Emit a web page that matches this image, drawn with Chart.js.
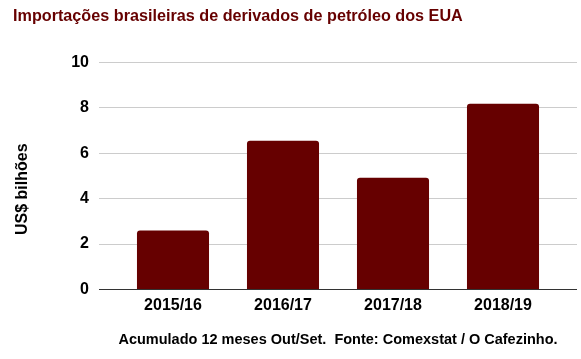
<!DOCTYPE html>
<html>
<head>
<meta charset="utf-8">
<script src="https://cdn.jsdelivr.net/npm/chart.js@4"></script>
<style>
  body { margin: 0; background: #fff; }
  #wrap { width: 581px; height: 359px; }
</style>
</head>
<body>
<div id="wrap"><canvas id="barChart"></canvas></div>
<script>
var periodos = ['2015/16', '2016/17', '2017/18', '2018/19'];
var importacoes = [2.59, 6.55, 4.92, 8.18];
var yTicks = [0, 2, 4, 6, 8, 10];

var fonte = 'Liberation Sans, Arial, sans-serif';
var marrom = '#660000';

function gridColor(c) {
    return c.tick && c.tick.value === 0 ? '#333333' : '#cccccc';
}

document.addEventListener('DOMContentLoaded', function () {
    var ctx = document.getElementById('barChart').getContext('2d');
    new Chart(ctx, {
        type: 'bar',
        data: {
            labels: periodos,
            datasets: [{
                label: 'US$ bilhões',
                data: importacoes,
                backgroundColor: marrom,
                borderRadius: 3,
                borderSkipped: 'start',
                barPercentage: 0.655,
                categoryPercentage: 1
            }]
        },
        options: {
            responsive: true,
            maintainAspectRatio: false,
            animation: false,
            layout: { padding: { left: 13, right: 4, top: 0, bottom: 10 } },
            plugins: {
                legend: { display: false },
                tooltip: { enabled: false },
                title: {
                    display: true,
                    text: 'Importações brasileiras de derivados de petróleo dos EUA',
                    align: 'start',
                    color: marrom,
                    font: { family: fonte, size: 16.2, weight: 'bold' },
                    padding: { top: 7, bottom: 36 }
                }
            },
            scales: {
                x: {
                    grid: { display: false, drawTicks: false },
                    border: { display: false },
                    ticks: {
                        color: '#000',
                        padding: 7,
                        font: { family: fonte, size: 16, weight: 'bold' }
                    },
                    title: {
                        display: true,
                        text: 'Acumulado 12 meses Out/Set.  Fonte: Comexstat / O Cafezinho.',
                        color: '#000',
                        font: { family: fonte, size: 14.5, weight: 'bold' },
                        padding: { top: 9, bottom: 0 }
                    }
                },
                y: {
                    min: 0,
                    max: 10,
                    afterBuildTicks: function (s) {
                        s.ticks = yTicks.map(function (v) { return { value: v }; });
                    },
                    grid: { color: gridColor, tickLength: 19 },
                    border: { display: false },
                    ticks: {
                        color: '#000',
                        padding: 10,
                        font: { family: fonte, size: 16, weight: 'bold' }
                    },
                    title: {
                        display: true,
                        // trailing spaces push the rotated label down like in the original
                        text: 'US$ bilhões      ',
                        color: '#000',
                        font: { family: fonte, size: 16, weight: 'bold' },
                        padding: { top: 0, bottom: 29 }
                    }
                },
                y2: {
                    position: 'right',
                    min: 0,
                    max: 10,
                    afterBuildTicks: function (s) {
                        s.ticks = yTicks.map(function (v) { return { value: v }; });
                    },
                    grid: { color: gridColor, tickLength: 19, drawOnChartArea: false },
                    border: { display: false },
                    ticks: { display: false }
                }
            }
        }
    });
});
</script>
</body>
</html>
